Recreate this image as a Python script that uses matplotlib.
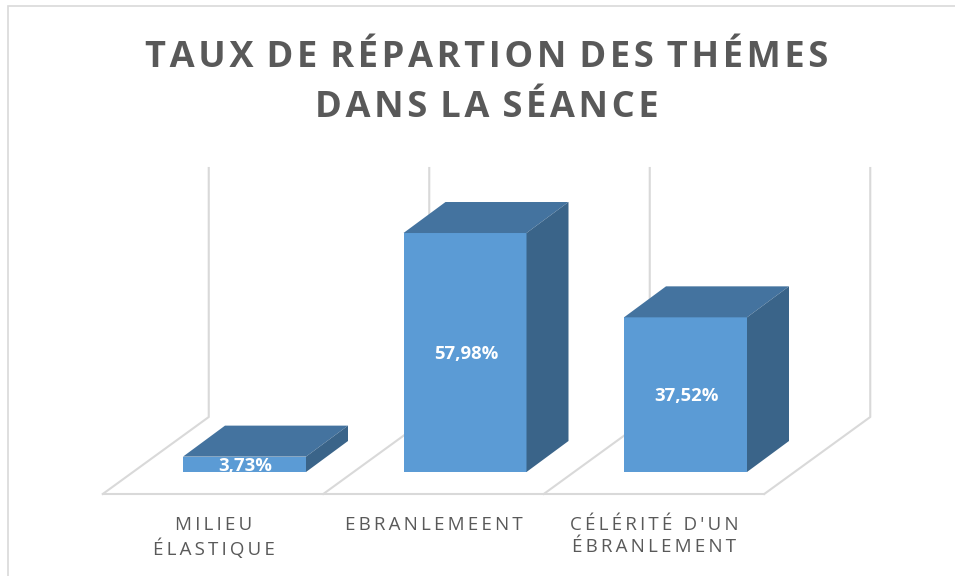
import numpy as np
import matplotlib
matplotlib.use("Agg")
import matplotlib.pyplot as plt
from matplotlib.patches import Rectangle

categories = ["MILIEU\nÉLASTIQUE", "EBRANLEMEENT", "CÉLÉRITÉ D'UN\nÉBRANLEMENT"]
values = [3.73, 57.98, 37.52]
value_labels = ["3,73%", "57,98%", "37,52%"]
title_lines = ["TAUX DE RÉPARTION DES THÉMES", "DANS LA SÉANCE"]

plt.rcParams['font.family'] = ['Open Sans', 'DejaVu Sans']

W, H = 955, 576
# echelle de l'axe : pixels par categorie et par pour cent
PX_X = 220.5
PX_Y = 4.122
X0 = 244.5
Y0 = 472


def spaced(s, sep, gap):
    # espacement des lettres, gap = separation entre les mots
    return gap.join(sep.join(w) for w in s.split(" "))


fig = plt.figure(figsize=(W / 100, H / 100), dpi=100, facecolor='white')
ax = fig.add_axes([0, 0, 1, 1])
ax.set_xlim(-X0 / PX_X, (W - X0) / PX_X)
ax.set_ylim(-(H - Y0) / PX_Y, Y0 / PX_Y)
ax.axis('off')

# cadre du graphique
fig.add_artist(Rectangle((8 / W, -0.1), 1.1, 1.1 - 6 / H, transform=fig.transFigure,
                         fill=False, edgecolor='#D9D9D9', linewidth=1.2))

# sol et murs
grid = '#D9D9D9'
front_y = -22 / PX_Y
back_y = 55 / PX_Y
wall_top = 304 / PX_Y
x_front = np.arange(4) - 0.5 - 31.5 / PX_X
x_back = np.arange(4) - 0.5 + 74.5 / PX_X
ax.plot([x_front[0], x_front[3]], [front_y, front_y], color=grid, lw=1.5, zorder=1)
for xf, xb in zip(x_front, x_back):
    ax.plot([xf, xb, xb], [front_y, back_y, wall_top], color=grid, lw=1.5, zorder=1)

# barres 3D
width = 123 / PX_X
dx = 42 / PX_X
dy = 31 / PX_Y
x = np.arange(len(values))
ax.bar(x, values, width=width, color='#5B9BD5', zorder=3)
for xi, v in zip(x, values):
    left, right = xi - width / 2, xi + width / 2
    ax.fill([left, right, right + dx, left + dx], [v, v, v + dy, v + dy],
            color='#44739F', lw=0, zorder=3)
    ax.fill([right, right + dx, right + dx, right], [0, dy, v + dy, v],
            color='#3A6489', lw=0, zorder=3)

for xi, v, lab in zip(x, values, value_labels):
    ax.text(xi + 1 / PX_X, v / 2 - 0.3, lab, color='white', fontsize=13.3, fontweight='bold',
            ha='center', va='center', zorder=4)

# etiquettes des categories
for xi, cat in zip(x, categories):
    lines = [spaced(p, "\u2009", "\u2009 \u2009") for p in cat.split("\n")]
    ax.text(xi - 31 / PX_X, -44 / PX_Y, "\n".join(lines),
            color='#595959', fontsize=13.5, ha='center', va='top', linespacing=1.3)

# titre
fig.text(487 / W, 1 - 83 / H, "\n".join(spaced(t, "\u200a", " \u200a") for t in title_lines),
         color='#595959', fontsize=26.1, fontweight='bold', ha='center', va='center',
         linespacing=1.55)

fig.savefig("out.png", dpi=100)
